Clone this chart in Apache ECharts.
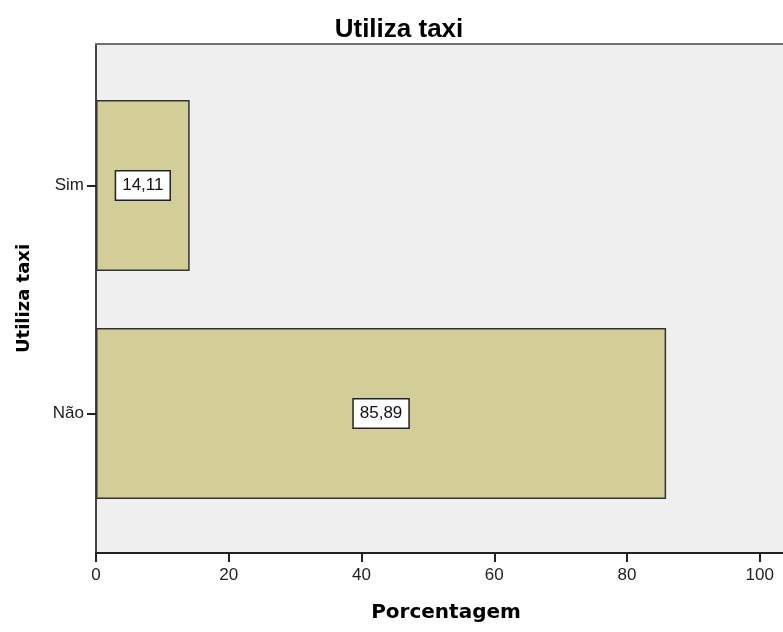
<!DOCTYPE html>
<html>
<head>
<meta charset="utf-8">
<script src="https://cdn.jsdelivr.net/npm/echarts@6/dist/echarts.min.js"></script>
<style>html,body{margin:0;padding:0;background:#fff}#c{width:783px;height:632px}</style>
</head>
<body>
<div id="c"></div>
<script>
const chartTitle = 'Utiliza taxi';
const categories = ['Não', 'Sim'];
const percentages = [85.89, 14.11];
const xTicks = [0, 20, 40, 60, 80, 100];
const xAxisTitle = 'Porcentagem';
const yAxisTitle = 'Utiliza taxi';

const chart = echarts.init(document.getElementById('c'));
const XMAX = 103.5;
chart.setOption({
  animation: false,
  backgroundColor: '#ffffff',
  title: {
    text: chartTitle, left: 394, top: 12, textAlign: 'center',
    textStyle: { fontFamily: 'Liberation Sans', fontWeight: 'bold', fontSize: 26, color: '#000' }
  },
  grid: [
    { left: 96, right: 0, top: 44, bottom: 79, show: true, backgroundColor: '#efefef', borderWidth: 0 },
    { left: 96, right: 0, top: 71.5, bottom: 104.5 }
  ],
  xAxis: [
    { type: 'value', gridIndex: 0, min: 0, max: XMAX, interval: 20,
      axisLine: { show: true, lineStyle: { color: '#222', width: 2 } },
      axisTick: { show: true, length: 9, lineStyle: { color: '#222', width: 2 } },
      axisLabel: { showMaxLabel: false, margin: 14, fontFamily: 'Liberation Sans', fontSize: 17, color: '#222',
        formatter: v => xTicks.includes(v) ? String(v) : '' },
      splitLine: { show: false },
      name: xAxisTitle, nameLocation: 'middle', nameGap: 50,
      nameTextStyle: { fontFamily: 'DejaVu Sans', fontWeight: 'bold', fontSize: 20, color: '#000', padding: [0, 0, 0, 13] } },
    { type: 'value', gridIndex: 1, min: 0, max: XMAX, show: false },
    { type: 'value', gridIndex: 0, min: 0, max: XMAX, position: 'top',
      axisLine: { show: true, lineStyle: { color: '#707070', width: 2 } },
      axisTick: { show: false }, axisLabel: { show: false }, splitLine: { show: false } }
  ],
  yAxis: [
    { type: 'value', gridIndex: 0, min: 0, max: 1,
      axisLine: { show: true, lineStyle: { color: '#444', width: 2 } },
      axisTick: { show: false }, axisLabel: { show: false }, splitLine: { show: false },
      name: yAxisTitle, nameLocation: 'middle', nameGap: 63, nameRotate: 90,
      nameTextStyle: { fontFamily: 'DejaVu Sans', fontWeight: 'bold', fontSize: 18, color: '#000' } },
    { type: 'category', gridIndex: 1, data: categories,
      axisLine: { show: false },
      axisTick: { show: true, alignWithLabel: true, length: 9, lineStyle: { color: '#222', width: 2 } },
      axisLabel: { margin: 12, fontFamily: 'Liberation Sans', fontSize: 17, color: '#222' } }
  ],
  series: [{
    type: 'bar', xAxisIndex: 1, yAxisIndex: 1,
    data: percentages,
    barCategoryGap: '25%',
    itemStyle: { color: '#d3ce98', borderColor: '#333', borderWidth: 1.5 },
    label: {
      show: true, position: 'inside',
      formatter: p => p.value.toFixed(2).replace('.', ','),
      fontFamily: 'Liberation Sans', fontSize: 17, color: '#111',
      backgroundColor: '#fff', borderColor: '#222', borderWidth: 1.5,
      padding: [6, 6, 5, 6]
    }
  }]
});
</script>
</body>
</html>
